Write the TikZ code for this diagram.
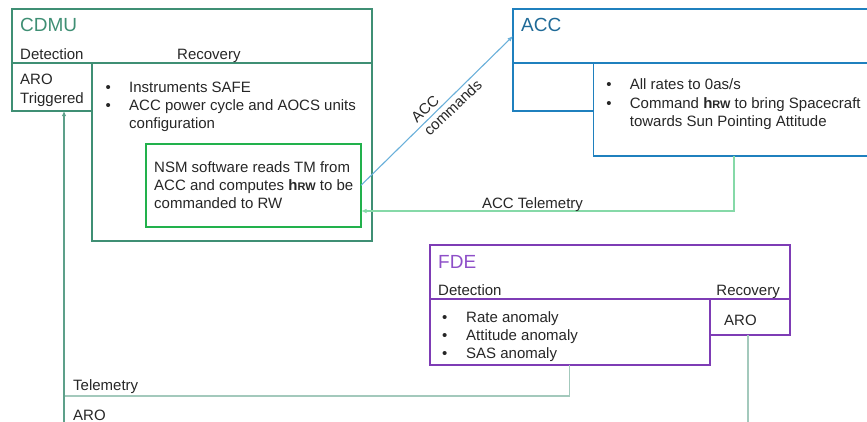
\documentclass[tikz,border=0pt]{standalone}
\usepackage{fontspec}
\setmainfont{Liberation Sans}
\usetikzlibrary{arrows.meta}
\definecolor{cdmuc}{HTML}{3F8F74}
\definecolor{nsmc}{HTML}{22B14C}
\definecolor{accc}{HTML}{1F80BE}
\definecolor{acctxt}{HTML}{1F6A97}
\definecolor{fdec}{HTML}{7E3CB5}
\definecolor{fdetxt}{HTML}{8E4FC8}
\definecolor{cmdc}{HTML}{6AB0DA}
\definecolor{acctelc}{HTML}{86D9A8}
\definecolor{telc}{HTML}{A3C9BC}
\definecolor{txtc}{HTML}{262626}
\newcommand\myhrw{\textbf{h{\fontsize{11}{11}\selectfont RW}}}
\newcommand\mybl[2]{\begin{tabular}[t]{@{}p{#1}@{}l@{}}#2\end{tabular}}
\newcommand\mylines[1]{\begin{tabular}[t]{@{}l@{}}#1\end{tabular}}
\begin{document}
\begin{tikzpicture}[x=1pt,y=-1pt,
  box/.style={draw=#1, line width=1.8pt, rectangle, inner sep=0pt, outer sep=0pt, anchor=north west},
  txt/.style={inner sep=0pt, anchor=base west, text=txtc, font=\fontsize{15}{18.3}\selectfont},
  ttl/.style={inner sep=0pt, anchor=base west, font=\fontsize{19}{22}\selectfont},
  conn/.style={draw=#1, line width=1.1pt},
  tip/.style={-{Latex[length=5.5pt,width=4.5pt]}}
]
\useasboundingbox (0,0) rectangle (867,421);

% CDMU
\node[box=cdmuc, minimum width=360pt, minimum height=53.7pt] (cdmuhead) at (12,9.3) {};
\node[box=cdmuc, minimum width=80pt, minimum height=47.7pt] (cdmudet) at (12,63) {};
\node[box=cdmuc, minimum width=280pt, minimum height=177.7pt] (cdmurec) at (92,63) {};
\node[box=nsmc, minimum width=215.3pt, minimum height=82.7pt] (nsm) at (145.7,144) {};

\node[ttl, text=cdmuc] (cdmut) at (20,31.8) {CDMU};
\node[txt] (cdmudt) at (20,59.4) {Detection};
\node[txt] (cdmurt) at (177,59.4) {Recovery};
\node[txt] (arot) at (20,84.7) {\mylines{ARO\\Triggered}};
\node[txt] (cdmubl) at (105.5,92.1) {\mybl{23.5pt}{\textbullet & Instruments SAFE\\ \textbullet & ACC power cycle and AOCS units\\ & configuration}};
\node[txt] (nsmt) at (154,172.1) {\mylines{NSM software reads TM from\\ ACC and computes \myhrw{} to be\\ commanded to RW}};

% ACC
\node[box=accc, minimum width=367pt, minimum height=53.4pt] (acchead) at (513,9.3) {};
\node[box=accc, minimum width=80.5pt, minimum height=48pt] (accdet) at (513,62.7) {};
\node[box=accc, minimum width=286.5pt, minimum height=93.3pt] (accrec) at (593.5,62.7) {};
\node[ttl, text=acctxt] (acct) at (521,31.8) {ACC};
\node[txt] (accbl) at (606.2,89.7) {\mybl{23.5pt}{\textbullet & All rates to 0as/s\\ \textbullet & Command \myhrw{} to bring Spacecraft\\ & towards Sun Pointing Attitude}};

% FDE
\node[box=fdec, minimum width=360pt, minimum height=54.6pt] (fdehead) at (430,244.7) {};
\node[box=fdec, minimum width=279.6pt, minimum height=65.7pt] (fdedet) at (430,299.3) {};
\node[box=fdec, minimum width=80.4pt, minimum height=35.7pt] (fderec) at (709.6,299.3) {};
\node[ttl, text=fdetxt] (fdet) at (438,268.5) {FDE};
\node[txt] (fdedt) at (438,295.4) {Detection};
\node[txt, anchor=base east] (fdert) at (780,295.4) {Recovery};
\node[txt] (fdebl) at (442,322.1) {\mybl{24pt}{\textbullet & Rate anomaly\\ \textbullet & Attitude anomaly\\ \textbullet & SAS anomaly}};
\node[txt] (fdearot) at (724,325.4) {ARO};

% connectors
\draw[conn=cmdc, tip] (nsm.east) -- (acchead.west);
\node[txt, anchor=center, rotate=43.6, align=left] (cmdlbl) at (446.5,101) {ACC\\commands};

\coordinate (telrow) at (0,211);
\draw[conn=acctelc, tip] ([xshift=140.5pt]accrec.south west) |- (nsm.east |- telrow);
\node[txt, anchor=base] (acctellbl) at (532.5,208.1) {ACC Telemetry};

\coordinate (arojoin) at (64,396);
\coordinate (arobot) at (64,425);
\draw[conn=telc] (fdedet.south) |- (arojoin);
\draw[conn=cdmuc!70!telc, tip] (arobot) -- (arojoin |- cdmudet.south);
\node[txt] (tellbl) at (73,390.4) {Telemetry};
\node[txt] (arolbl) at (73,420.4) {ARO};

\coordinate (fdearobot) at (748,425);
\draw[conn=telc] (fderec.south -| fdearobot) -- (fdearobot);
\end{tikzpicture}
\end{document}
